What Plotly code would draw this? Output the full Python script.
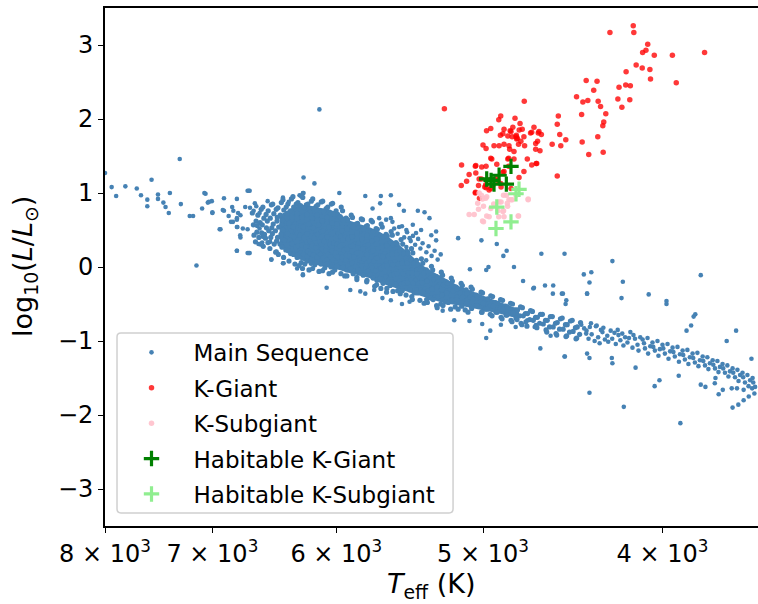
import math
import plotly.graph_objects as go

# ---------------- data ----------------
# Main sequence: dense core (Teff in K, log10 L/Lsun)
ms_core_teff = [
    6661,6630,6652,6624,6647,6635,
    6588,6615,6597,6620,6584,6607,6593,
    6574,6548,6566,6579,6545,6561,6553,6571,
    6505,6531,6514,6538,6502,6526,6510,6533,6517,
    6494,6466,6485,6460,6490,6472,6497,6463,6482,6470,
    6425,6452,6433,6457,6421,6446,6428,6455,6436,6420,6449,
    6412,6386,6405,6381,6416,6393,6410,6384,6402,6418,6389,6407,
    6345,6373,6352,6378,6341,6366,6348,6376,6356,6343,6370,6351,6364,
    6333,6307,6327,6302,6338,6314,6331,6305,6324,6339,6310,6329,6300,6317,
    6266,6294,6273,6299,6262,6288,6270,6297,6278,6264,6291,6275,6300,6268,6285,
    6256,6229,6249,6224,6261,6236,6253,6227,6246,6260,6232,6251,6222,6240,6258,
    6190,6217,6197,6222,6186,6211,6193,6220,6201,6188,6214,6196,6223,6191,6208,
    6179,6153,6172,6148,6183,6160,6176,6151,6169,6182,6156,6174,6146,6163,6180,
    6114,6140,6121,6145,6110,6134,6117,6143,6125,6112,6137,6120,6146,6116,6131,
    6103,6077,6096,6072,6107,6084,6100,6075,6093,6106,6080,6098,6071,6087,6104,
    6038,6065,6045,6069,6034,6058,6041,6067,6049,6036,6061,6044,6070,6040,6055,
    6028,6002,6021,5997,6032,6008,6025,6000,6018,6031,6005,6023,5996,6012,6029,
    5964,5990,5971,5995,5960,5984,5967,5993,5975,5962,5987,5970,5996,5966,
    5954,5928,5947,5923,5958,5935,5951,5926,5944,5957,5931,5949,5922,5938,
    5890,5917,5897,5921,5886,5911,5894,5919,5901,5888,5914,5896,5922,
    5881,5855,5874,5850,5885,5862,5878,5853,5871,5884,5858,5876,5849,
    5817,5844,5824,5848,5813,5838,5820,5846,5828,5815,5841,5823,5849,
    5808,5782,5801,5777,5812,5789,5805,5780,5798,5811,5785,5803,5776,
    5746,5773,5753,5777,5742,5767,5749,5775,5757,5744,5770,5752,5778,
    5737,5711,5730,5706,5741,5718,5734,5709,5727,5740,5714,5732,5705,5721,
    5675,5702,5682,5706,5671,5696,5678,5704,5686,5673,5699,5681,5707,5677,
    5667,5641,5660,5636,5671,5648,5664,5639,5657,5670,5644,5662,5635,
    5605,5632,5612,5636,5601,5626,5608,5634,5616,5603,5629,5611,5637,
    5597,5571,5590,5566,5601,5578,5594,5569,5587,5600,5574,5592,
    5536,5563,5543,5567,5532,5557,5539,5565,5547,5534,5560,5542,
    5525,5499,5518,5494,5529,5506,5522,5497,5515,5528,5502,
    5465,5490,5471,5494,5461,5485,5468,5492,5475,5463,
    5456,5431,5449,5426,5460,5438,5453,5429,5447,5459,
    5398,5423,5404,5427,5394,5418,5401,5425,5408,
    5389,5365,5383,5360,5393,5371,5386,5363,5380,
    5331,5356,5338,5360,5328,5351,5335,5358,
    5323,5299,5317,5294,5327,5305,5320,5297,
    5266,5291,5273,5295,5263,5286,5270,5293,
    5258,5234,5252,5230,5262,5240,5255,
    5201,5226,5208,5230,5198,5221,5205,
    5194,5170,5188,5166,5198,5176,
    5138,5162,5144,5166,5135,5157,
    5130,5106,5124,5102,5134,5112,
    5075,5099,5081,5103,5072,5094,
    5067,5043,5061,5039,5071,
    5012,5036,5018,5040,5009,
]
ms_core_logl = [
    0.73,0.62,0.57,0.47,0.43,0.34,
    0.78,0.70,0.60,0.56,0.46,0.40,0.31,
    0.81,0.71,0.66,0.57,0.53,0.44,0.39,0.28,
    0.84,0.76,0.66,0.62,0.53,0.49,0.40,0.33,0.25,
    0.85,0.78,0.72,0.62,0.58,0.49,0.45,0.35,0.31,0.20,
    0.87,0.80,0.70,0.67,0.57,0.54,0.44,0.40,0.31,0.27,0.17,
    0.91,0.81,0.77,0.67,0.63,0.53,0.50,0.40,0.36,0.27,0.23,0.13,
    0.92,0.85,0.76,0.72,0.62,0.59,0.49,0.45,0.36,0.32,0.22,0.18,0.08,
    0.95,0.85,0.81,0.71,0.67,0.58,0.54,0.44,0.41,0.31,0.27,0.17,0.13,0.04,
    0.96,0.87,0.83,0.73,0.69,0.59,0.56,0.46,0.43,0.33,0.29,0.19,0.16,0.06,0.02,
    0.94,0.84,0.80,0.70,0.67,0.57,0.54,0.44,0.40,0.30,0.27,0.17,0.14,0.04,-0.02,
    0.89,0.85,0.75,0.71,0.61,0.58,0.48,0.45,0.35,0.31,0.21,0.18,0.08,0.05,-0.04,
    0.92,0.82,0.79,0.69,0.66,0.56,0.53,0.43,0.39,0.29,0.26,0.16,0.13,0.03,-0.02,
    0.88,0.84,0.74,0.70,0.60,0.57,0.47,0.44,0.34,0.30,0.20,0.17,0.07,0.04,-0.06,
    0.89,0.79,0.75,0.65,0.62,0.52,0.49,0.39,0.35,0.25,0.22,0.12,0.09,-0.01,-0.05,
    0.85,0.81,0.71,0.67,0.57,0.54,0.44,0.41,0.31,0.27,0.17,0.14,0.04,0.00,-0.09,
    0.86,0.76,0.72,0.63,0.59,0.49,0.46,0.36,0.32,0.22,0.19,0.09,0.06,-0.04,-0.07,
    0.81,0.71,0.68,0.58,0.54,0.45,0.41,0.31,0.28,0.18,0.14,0.05,0.01,-0.09,
    0.76,0.66,0.63,0.53,0.49,0.40,0.36,0.26,0.23,0.13,0.09,0.00,-0.04,-0.12,
    0.70,0.64,0.55,0.51,0.41,0.38,0.28,0.24,0.15,0.11,0.01,-0.02,-0.12,
    0.67,0.58,0.54,0.44,0.41,0.31,0.28,0.18,0.14,0.05,0.01,-0.09,-0.14,
    0.65,0.59,0.49,0.46,0.36,0.32,0.23,0.19,0.09,0.06,-0.04,-0.08,-0.17,
    0.64,0.55,0.51,0.41,0.38,0.28,0.25,0.15,0.11,0.02,-0.02,-0.11,-0.18,
    0.63,0.56,0.47,0.43,0.33,0.30,0.20,0.17,0.07,0.03,-0.06,-0.10,-0.20,
    0.61,0.52,0.48,0.39,0.35,0.25,0.22,0.12,0.08,-0.01,-0.05,-0.15,-0.18,-0.26,
    0.58,0.51,0.42,0.38,0.29,0.25,0.15,0.12,0.02,-0.01,-0.11,-0.15,-0.24,-0.29,
    0.54,0.44,0.41,0.31,0.27,0.18,0.14,0.04,0.01,-0.09,-0.13,-0.22,-0.29,
    0.48,0.42,0.32,0.29,0.19,0.15,0.06,0.02,-0.08,-0.11,-0.21,-0.25,-0.34,
    0.43,0.33,0.30,0.20,0.17,0.07,0.03,-0.06,-0.10,-0.20,-0.23,-0.33,
    0.37,0.31,0.21,0.17,0.08,0.04,-0.06,-0.09,-0.19,-0.23,-0.32,-0.36,
    0.31,0.21,0.18,0.08,0.05,-0.05,-0.09,-0.18,-0.22,-0.32,-0.38,
    0.25,0.18,0.09,0.05,-0.04,-0.08,-0.18,-0.21,-0.31,-0.40,
    0.19,0.09,0.05,-0.04,-0.08,-0.18,-0.22,-0.31,-0.35,-0.44,
    0.11,0.04,-0.05,-0.09,-0.18,-0.22,-0.31,-0.35,-0.45,
    0.05,-0.04,-0.08,-0.17,-0.21,-0.30,-0.34,-0.44,-0.49,
    0.01,-0.06,-0.15,-0.19,-0.28,-0.32,-0.42,-0.48,
    -0.04,-0.13,-0.17,-0.26,-0.30,-0.40,-0.44,-0.52,
    -0.07,-0.14,-0.23,-0.27,-0.36,-0.40,-0.50,-0.55,
    -0.11,-0.20,-0.24,-0.33,-0.38,-0.47,-0.52,
    -0.15,-0.22,-0.31,-0.35,-0.44,-0.48,-0.57,
    -0.19,-0.27,-0.32,-0.41,-0.45,-0.54,
    -0.22,-0.30,-0.35,-0.44,-0.48,-0.57,
    -0.25,-0.31,-0.40,-0.45,-0.53,-0.58,
    -0.27,-0.36,-0.41,-0.49,-0.54,-0.61,
    -0.30,-0.38,-0.43,-0.52,-0.56,
    -0.34,-0.39,-0.47,-0.52,-0.61,
]

# Outline of the region where main-sequence points overlap into a solid cloud
ms_solid_teff = [6439, 6360, 6281, 6204, 6128, 6052, 5978, 5904, 5831, 5760, 5689, 5619,
                 5550, 5478, 5411, 5344, 5279, 5214, 5150, 5087, 5024, 4962, 4901, 4841, 4781,
                 4781, 4841, 4901, 4962, 5024, 5087, 5150, 5214, 5279, 5344, 5411, 5478, 5550,
                 5619, 5689, 5760, 5831, 5904, 5978, 6052, 6128, 6204, 6281, 6360, 6439]
ms_solid_logl = [0.70, 0.78, 0.84, 0.83, 0.80, 0.78, 0.72, 0.63, 0.58, 0.54, 0.48, 0.40,
                 0.30, 0.18, 0.05, -0.04, -0.11, -0.18, -0.26, -0.31, -0.37, -0.42, -0.47,
                 -0.52, -0.57,
                 -0.70, -0.66, -0.63, -0.60, -0.57, -0.55, -0.52, -0.50, -0.47, -0.43, -0.38,
                 -0.34, -0.30, -0.26, -0.21, -0.15, -0.12, -0.08, -0.04, -0.01, 0.02, 0.05,
                 0.10, 0.18, 0.28]

# Main sequence: dense part of the cool tail (down to ~4450 K)
ms_band_teff = [
    5003,4984,4998,4988,5006, 4952,4971,4958,4974,4955, 4941,4923,4936,4920,4944,
    4892,4910,4897,4913,4889, 4880,4862,4875,4859,4883, 4832,4850,4837,4853,4829,
    4820,4802,4815,4799,4823, 4772,4790,4777,4793,4769, 4761,4743,4756,4740,4764,
    4713,4731,4718,4734, 4702,4684,4697,4681, 4655,4673,4660,4676,
    4644,4626,4639,4623, 4598,4616,4603,4619, 4587,4569,4582,4566,
    4541,4559,4546,4562, 4531,4513,4526,4510, 4485,4503,4490,4506,
    4475,4457,4470,4454, 4429,4447,4434,4450,
]
ms_band_logl = [
    -0.35,-0.44,-0.49,-0.57,-0.61, -0.39,-0.43,-0.53,-0.57,-0.64, -0.40,-0.48,-0.53,-0.61,-0.66,
    -0.44,-0.49,-0.57,-0.61,-0.68, -0.45,-0.53,-0.57,-0.65,-0.70, -0.49,-0.54,-0.62,-0.65,-0.72,
    -0.50,-0.58,-0.62,-0.69,-0.74, -0.54,-0.58,-0.66,-0.71,-0.76, -0.55,-0.63,-0.66,-0.74,-0.78,
    -0.59,-0.63,-0.71,-0.80, -0.60,-0.68,-0.72,-0.79, -0.64,-0.68,-0.76,-0.82,
    -0.64,-0.72,-0.77,-0.85, -0.67,-0.72,-0.81,-0.88, -0.67,-0.76,-0.81,-0.90,
    -0.70,-0.75,-0.84,-0.92, -0.69,-0.78,-0.84,-0.94, -0.73,-0.78,-0.88,-0.93,
    -0.72,-0.82,-0.87,-0.97, -0.75,-0.81,-0.91,-0.96,
]

# Main sequence: coolest stars (sparser band)
ms_tail_teff = [
    4425,4398,4409, 4372,4396,4385,4378, 4368,4345,4352, 4318,4341,4333,4325,
    4310,4297,4305, 4284,4266,4279, 4246,4258,4239, 4229,4215,4225,
    4190,4205,4199, 4178,4163,4170, 4139,4152,4147, 4126,4112,4121,
    4100,4088,4093, 4061,4075,4072, 4050,4038,4046, 4013,4025,4020,
    4000,3988,3996, 3962,3975,3970, 3950,3939,3946, 3914,3926,3919,
    3901,3890,3898, 3866,3878,3873, 3853,3842,3850, 3818,3830,3825,
    3805,3794,3802, 3771,3783,3778, 3758,3747,3755, 3724,3736,3731,
    3712,3701,3709, 3678,3690,3685, 3666,3655,3663, 3632,3644,3639,
    3621,3610,3618, 3587,3599,3594, 3576,3565,3573,
]
ms_tail_logl = [
    -0.78,-0.90,-0.83, -0.76,-0.86,-0.97,-0.81, -0.91,-0.80,-1.00, -0.85,-0.79,-0.95,-1.03,
    -0.88,-0.98,-0.82, -0.93,-0.86,-1.01, -0.89,-0.97,-1.04, -0.85,-0.99,-0.92,
    -0.95,-0.90,-1.06, -1.02,-0.88,-0.96, -0.97,-1.09,-0.92, -1.05,-0.95,-1.13,
    -0.98,-1.10,-1.03, -1.07,-0.96,-1.17, -1.02,-1.13,-1.08, -1.11,-1.00,-1.20,
    -1.05,-1.17,-1.10, -1.14,-1.04,-1.24, -1.09,-1.21,-1.15, -1.18,-1.08,-1.28,
    -1.13,-1.25,-1.19, -1.22,-1.12,-1.31, -1.17,-1.29,-1.23, -1.26,-1.16,-1.34,
    -1.21,-1.33,-1.27, -1.30,-1.22,-1.38, -1.26,-1.37,-1.32, -1.35,-1.27,-1.42,
    -1.31,-1.43,-1.37, -1.41,-1.33,-1.48, -1.37,-1.49,-1.43, -1.46,-1.39,-1.54,
    -1.43,-1.56,-1.49, -1.53,-1.46,-1.61, -1.50,-1.62,-1.56,
]

# Main sequence: sparse stars and outliers
ms_sparse_teff = [
    8000,7934,7890,7800,7690,7650,7550,7590,7590,7490,7490,7440,7420,7390,7380,7290,
    7280,7200,7170,7140,7090,7060,7040,7005,7000,6930,6900,6900,6790,6860,6840,6830,
    6820,6790,6780,6760,6790,6760,6790,6740,6700,6700,6700,6720,6680,6650,6640,
    6128,6250,6166,7070,7030,7000,6937,6910,6823,6790,6786,6762,6690,6690,6790,6628,6601,
    6601,6575,6610,6580,6505,6515,6463,6407,6300,6255,6535,6412,6366,6281,6250,
    5788,5677,5607,5736,5682,5550,5517,5422,5377,5344,5400,5332,5300,5500,5489,5366,5300,
    5689,5640,5607,5596,5550,5500,5456,5434,5478,5978,6255,6683,
    6073,5897,5824,5788,5724,5666,5607,5530,5478,6412,6505,6683,6255,6204,
    5157,5010,4915,4875,4855,4811,4650,4518,4411,4370,4380,4393,4757,4980,4966,5082,
    4697,4629,4582,4584,4533,4656,4518,4393,4380,4980,4955,5182,5085,5005,4890,4801,
    4732,4689,4597,5257,5085,4257,3814,4202,4693,
    4527,4393,4209,4069,4508,4512,3980,3980,3840,3848,3860,3882,3650,3693,3581,4516,
    4380,4197,3912,4136,4015,4039,3920,4260,4257,3730,3711,3666,3640,3616,3593,3568,
    3670,3646,3616,3578,3792,3814,3745,3748,
    5584,5560,5530,5515,5495,5470,5455,5440,5420,5405,5390,5365,5350,5330,5310,5290,5270,
]
ms_sparse_logl = [
    1.27,1.08,0.96,1.09,1.06,0.97,1.18,0.91,0.82,0.98,0.92,0.87,0.81,0.73,1.00,1.46,
    0.85,0.69,0.69,0.02,0.79,0.99,0.87,0.89,0.73,0.51,0.93,0.76,0.92,0.69,0.61,0.81,
    0.76,0.66,0.73,0.70,0.22,0.40,0.54,0.52,0.51,1.03,0.19,0.81,0.80,0.76,0.86,
    2.13,1.21,1.13,1.00,0.88,0.74,0.51,0.77,0.61,0.64,0.54,0.43,1.03,0.19,0.22,0.82,0.73,
    0.52,0.41,0.31,0.33,0.10,0.34,0.21,0.05,-0.02,-0.10,0.89,0.94,0.88,0.97,1.00,
    0.96,0.96,0.97,0.79,0.86,0.84,0.76,0.76,0.74,0.66,0.50,0.43,0.48,0.27,0.21,0.09,0.36,
    0.66,0.64,0.66,0.61,0.54,0.50,0.57,0.46,0.39,1.00,1.00,1.03,
    -0.28,-0.31,-0.33,-0.36,-0.31,-0.42,-0.45,-0.50,-0.47,0.05,0.10,0.19,-0.11,-0.04,
    0.39,0.36,0.31,0.15,0.22,0.00,0.18,0.18,-0.10,-0.07,-0.21,-0.36,-0.19,-0.04,0.00,-0.03,
    -0.29,-0.25,-0.25,-0.36,-0.36,-1.10,-1.21,-1.17,-1.23,-0.96,-0.86,-0.72,-0.73,-0.77,-0.78,-0.81,
    -0.72,-0.81,-0.93,-0.59,-0.35,0.08,-0.11,-0.20,-0.28,
    -0.36,-0.36,-0.42,-0.37,-0.45,-0.50,-0.46,-0.50,-0.64,-0.67,-0.79,-0.86,-0.86,-1.00,-1.24,-1.21,
    -1.70,-1.89,-2.11,-1.36,-1.53,-1.61,-1.47,-1.23,-1.30,-1.72,-1.66,-1.90,-1.86,-1.80,-1.75,-1.71,
    -1.64,-1.64,-1.66,-1.64,-1.62,-1.59,-1.50,-1.57,
    0.52,0.45,0.55,0.40,0.47,0.35,0.42,0.30,0.38,0.25,0.32,0.20,0.28,0.15,0.22,0.10,0.17,
]

# K-giants
kg_teff = [
    5246,4750,4891,4903,4805,4775,4952,4978,4818,4834,4780,4762,4893,4878,4848,4822,4799,4791,
    4752,4693,4706,4668,4650,5000,4981,4932,4901,4871,4841,4837,4811,4784,4748,4795,4770,
    4683,4672,4683,4658,4588,4539,4511,4553,4559,4545,4871,4829,4797,4713,4664,
    4946,4843,4915,4981,5045,5135,5103,5137,5087,5045,5024,5028,4983,4952,5047,5022,4989,
    4915,4878,4829,4781,4752,4706,4677,4559,4420,4384,4335,4306,4423,4451,4416,4389,4398,
    4339,4357,4333,4320,4292,4303,4308,4270,4222,4187,4163,4228,4207,4166,4185,4133,4102,
    4063,4060,4100,4083,4074,4041,4148,4145,3951,3932,3796,
    4952,4848,4811,4732,4680,4843,4871,5008,5048,5010,4955,4940,4889,4909,5048,4981,4962,4891,
]
kg_logl = [
    2.14,2.24,2.04,1.99,2.01,1.94,1.87,1.84,1.89,1.84,1.85,1.86,1.78,1.80,1.77,1.76,1.76,1.74,
    1.76,1.89,1.82,1.81,1.79,1.65,1.60,1.64,1.64,1.66,1.64,1.59,1.56,1.66,1.64,1.73,1.70,
    1.67,1.70,1.59,1.57,1.66,1.64,1.72,2.04,1.93,1.79,1.86,1.83,1.78,1.81,1.83,
    1.46,1.47,1.39,1.36,1.37,1.38,1.16,1.10,1.25,1.27,1.19,1.10,1.11,1.06,1.01,0.93,1.08,
    1.22,1.28,1.06,1.21,1.29,1.38,1.40,1.23,1.69,1.52,1.76,1.55,2.06,2.30,2.23,2.25,2.52,
    2.51,2.39,2.24,2.17,2.07,1.96,1.91,3.17,2.43,2.46,2.45,2.27,2.16,2.26,2.64,2.73,2.69,
    2.67,2.54,2.90,2.93,3.01,2.86,3.26,3.17,2.86,2.49,2.90,
    1.47,1.46,1.46,1.46,1.40,1.36,1.29,1.35,1.36,1.19,1.18,1.10,1.08,1.17,1.00,1.07,1.04,1.13,
]

# K-subgiants
ksg_teff = [5010,4983,5033,4997,5028,5087,5055,5003,4977,4952,4909,4878,4903,4871,4841,4821,
            4849,4784,4727,4857,4901,4934,4799,4874,4997,4962,4874,4786,4727,5024,5003,4977,
            4889,4851,4829]
ksg_logl = [0.97,0.93,0.86,0.82,0.78,0.71,0.71,0.62,0.69,0.79,0.76,0.75,0.68,0.68,0.91,0.91,
            0.82,0.69,0.92,0.97,0.88,0.85,0.97,0.97,0.61,0.68,0.76,0.69,0.91,1.00,0.92,0.95,
            0.88,0.86,0.91]

# Habitable K-giants and K-subgiants
hkg_teff = [4977, 4950, 4932, 4901, 4857, 4829]
hkg_logl = [1.19, 1.17, 1.12, 1.24, 1.12, 1.36]
hksg_teff = [4799, 4781, 4915, 4829, 4920]
hksg_logl = [0.99, 1.05, 0.81, 0.61, 0.52]

x_tickvals = [8000, 7000, 6000, 5000, 4000]
x_ticktext = ["8 × 10<sup>3</sup>", "7 × 10<sup>3</sup>", "6 × 10<sup>3</sup>",
              "5 × 10<sup>3</sup>", "4 × 10<sup>3</sup>"]
y_tickvals = [-3, -2, -1, 0, 1, 2, 3]
y_ticktext = ["−3", "−2", "−1", "0", "1", "2", "3"]

# ---------------- figure ----------------
assert len(ms_core_teff) == len(ms_core_logl)
assert len(ms_band_teff) == len(ms_band_logl)
assert len(ms_tail_teff) == len(ms_tail_logl)
assert len(ms_sparse_teff) == len(ms_sparse_logl)
assert len(ms_solid_teff) == len(ms_solid_logl)
assert len(kg_teff) == len(kg_logl)
assert len(ksg_teff) == len(ksg_logl)

ms_dense_teff = ms_core_teff + ms_band_teff
ms_dense_logl = ms_core_logl + ms_band_logl
ms_loose_teff = ms_tail_teff + ms_sparse_teff
ms_loose_logl = ms_tail_logl + ms_sparse_logl

FONT = "DejaVu Sans"
BLUE = "#4682b4"
fig = go.Figure()
fig.add_trace(go.Scatter(x=ms_loose_teff, y=ms_loose_logl, mode="markers", name="Main Sequence",
                         legendgroup="a",
                         marker=dict(color=BLUE, size=4.6, line=dict(width=0))))
fig.add_trace(go.Scatter(x=ms_solid_teff, y=ms_solid_logl, mode="lines", fill="toself",
                         fillcolor=BLUE, line=dict(width=0, color=BLUE),
                         legendgroup="a", showlegend=False, hoverinfo="skip"))
fig.add_trace(go.Scatter(x=ms_dense_teff, y=ms_dense_logl, mode="markers", name="Main Sequence",
                         legendgroup="a", showlegend=False,
                         marker=dict(color=BLUE, size=5.2, line=dict(width=0))))
fig.add_trace(go.Scatter(x=kg_teff, y=kg_logl, mode="markers", name="K-Giant",
                         legendgroup="b",
                         marker=dict(color="rgba(255,0,0,0.78)", size=5.5, line=dict(width=0))))
fig.add_trace(go.Scatter(x=ksg_teff, y=ksg_logl, mode="markers", name="K-Subgiant",
                         legendgroup="c",
                         marker=dict(color="rgba(255,192,203,0.9)", size=5.5, line=dict(width=0))))
fig.add_trace(go.Scatter(x=hkg_teff, y=hkg_logl, mode="markers", name="Habitable K-Giant",
                         legendgroup="d",
                         marker=dict(symbol="cross-thin", size=11, color="#008000",
                                     line=dict(color="#008000", width=3.2))))
fig.add_trace(go.Scatter(x=hksg_teff, y=hksg_logl, mode="markers", name="Habitable K-Subgiant",
                         legendgroup="e",
                         marker=dict(symbol="cross-thin", size=11, color="#90ee90",
                                     line=dict(color="#90ee90", width=3.2))))

# legend frame (rounded, semi-transparent white like matplotlib)
x0, x1, y0, y1 = 0.0184, 0.533, 0.0251, 0.3726
rx, ry = 0.006, 0.0075
path = (f"M {x0+rx},{y0} L {x1-rx},{y0} Q {x1},{y0} {x1},{y0+ry} "
        f"L {x1},{y1-ry} Q {x1},{y1} {x1-rx},{y1} L {x0+rx},{y1} "
        f"Q {x0},{y1} {x0},{y1-ry} L {x0},{y0+ry} Q {x0},{y0} {x0+rx},{y0} Z")
fig.add_shape(type="path", path=path, xref="paper", yref="paper",
              fillcolor="rgba(255,255,255,0.8)", line=dict(color="#d0d0d0", width=1.5),
              layer="above")

# axis titles
fig.add_annotation(text="<i>T</i><sub>eff</sub> (K)", xref="paper", yref="paper",
                   x=0.5, y=-0.114, xanchor="center", yanchor="middle", showarrow=False,
                   font=dict(family=FONT, size=27, color="black"))
fig.add_annotation(text="log<sub>10</sub>(<i>L</i>/<i>L</i><sub>⊙</sub>)", xref="paper",
                   yref="paper", x=-0.124, y=0.5, xanchor="center", yanchor="middle",
                   textangle=-90, showarrow=False,
                   font=dict(family=FONT, size=27, color="black"))

fig.update_layout(
    width=758, height=604,
    margin=dict(l=105, r=0, t=8, b=78),
    paper_bgcolor="white", plot_bgcolor="white",
    font=dict(family=FONT, size=23, color="black"),
    showlegend=True,
    legend=dict(x=0.0069, y=0.3766, xanchor="left", yanchor="top",
                bgcolor="rgba(0,0,0,0)", borderwidth=0,
                font=dict(family=FONT, size=23),
                traceorder="grouped", tracegroupgap=2.5, itemwidth=74),
)
fig.update_xaxes(type="log", automargin=False,
                 range=[math.log10(8000), math.log10(3552)],
                 tickvals=x_tickvals, ticktext=x_ticktext,
                 ticks="outside", ticklen=5, tickwidth=1.2, tickcolor="black",
                 tickfont=dict(family=FONT, size=24),
                 showline=True, linecolor="black", linewidth=1.6, mirror=True,
                 showgrid=False, zeroline=False)
fig.update_yaxes(range=[-3.5, 3.5], automargin=False,
                 tickvals=y_tickvals, ticktext=y_ticktext,
                 ticks="outside", ticklen=5, tickwidth=1.2, tickcolor="black",
                 tickfont=dict(family=FONT, size=24),
                 showline=True, linecolor="black", linewidth=1.6, mirror=False,
                 showgrid=False, zeroline=False)

fig.write_html("out.html", config={"displayModeBar": False},
               post_script="document.body.style.margin='0';")
